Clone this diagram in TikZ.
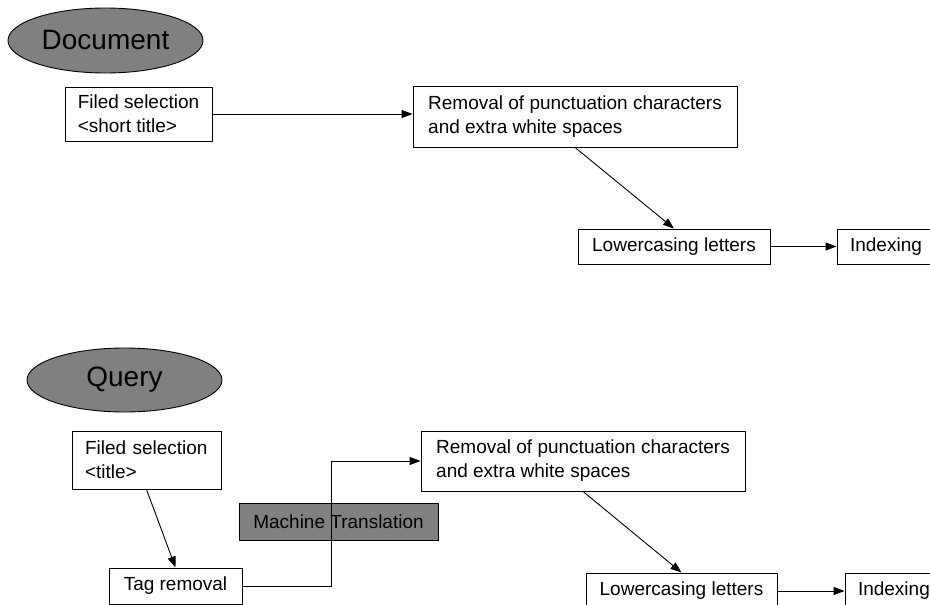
\documentclass[tikz,border=0pt]{standalone}
\usepackage{fontspec}
\setmainfont{Liberation Sans}
\usetikzlibrary{shapes.geometric,arrows.meta}

\tikzset{
  box/.style={draw, fill=white, line width=0.9pt, inner xsep=12pt, inner ysep=0pt,
    align=left, font=\fontsize{19pt}{24pt}\selectfont},
  grbox/.style={box, fill=gray},
  title/.style={draw, ellipse, fill=gray, line width=0.9pt, inner sep=0pt,
    font=\fontsize{28pt}{32pt}\selectfont},
  conn/.style={line width=0.9pt, -{Triangle[length=11pt,width=8pt]}}
}

\begin{document}
\begin{tikzpicture}[x=1pt,y=-1pt]
\useasboundingbox (0,0) rectangle (930,605);

% document part
\node[title, minimum width=195pt, minimum height=65pt] (doc) at (105.5,40.5) {Document};
\node[box, minimum width=147pt, minimum height=54pt] (fsel1) at (138.5,114) {Filed selection\\<short title>};
\node[box, minimum width=324pt, minimum height=61pt] (rem1) at (575,116.5) {Removal of punctuation characters\\and extra white spaces};
\node[box, minimum width=192pt, minimum height=35pt] (low1) at (674,246.5) {Lowercasing letters};
\node[box, minimum width=98pt, minimum height=35pt] (idx1) at (886,246.5) {Indexing};

\draw[conn] (fsel1.east) -- (fsel1.east -| rem1.west);
\draw[conn] (rem1.south) -- (low1.north);
\draw[conn] (low1.east) -- (idx1.west);

% query part
\node[title, minimum width=195pt, minimum height=64pt] (query) at (124.5,380) {Query};
\node[box, minimum width=149pt, minimum height=58pt, text width=123pt] (fsel2) at (146.5,460) {Filed selection\\<title>};
\node[box, minimum width=133pt, minimum height=36pt] (tag) at (175.5,586) {Tag removal};
\node[grbox, minimum width=199pt, minimum height=37pt] (mt) at (338.5,521.5) {Machine Translation};
\node[box, minimum width=324pt, minimum height=60pt] (rem2) at (583,461) {Removal of punctuation characters\\and extra white spaces};
\node[box, minimum width=191pt, minimum height=36pt] (low2) at (681.5,591) {Lowercasing letters};
\node[box, minimum width=95pt, minimum height=36pt, text width=69pt] (idx2) at (892.5,591) {Indexing};

\draw[conn] (fsel2.south) -- (tag.north);
\draw[conn] (tag.east) -- ++(89,0) |- (rem2.west);
\draw[conn] (rem2.south) -- (low2.north);
\draw[conn] (low2.east) -- (idx2.west);
\end{tikzpicture}
\end{document}
